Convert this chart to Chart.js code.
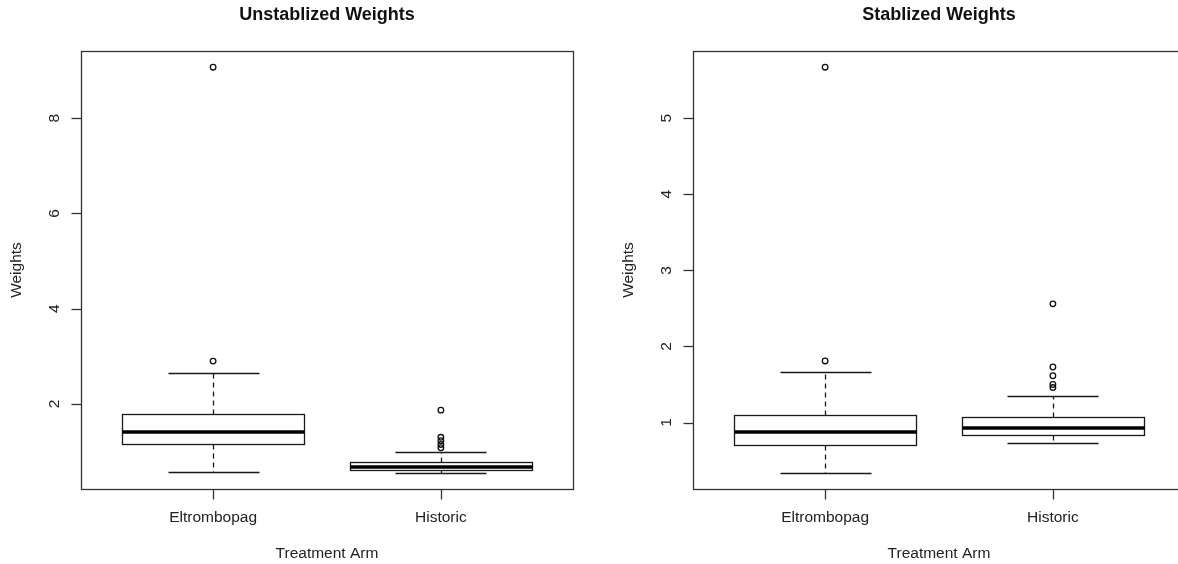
<!DOCTYPE html>
<html>
<head>
<meta charset="utf-8">
<script src="https://cdn.jsdelivr.net/npm/chart.js@4/dist/chart.umd.min.js"></script>
<style>
  html, body { margin: 0; padding: 0; background: #fff; overflow: hidden; }
  #wrap { position: relative; width: 1178px; height: 564px; overflow: hidden; }
  canvas { position: absolute; top: 0; }
  #left { left: 0; }
  #right { left: 589px; }
</style>
</head>
<body>
<div id="wrap">
  <canvas id="left" width="589" height="564"></canvas>
  <canvas id="right" width="612" height="564"></canvas>
</div>
<script>
const categories = ['Eltrombopag', 'Historic'];

// Unstablized weights (box stats)
const unstabLow = [0.57, 0.555];
const unstabQ1 = [1.155, 0.625];
const unstabMedian = [1.42, 0.68];
const unstabQ3 = [1.78, 0.79];
const unstabHigh = [2.66, 1.00];
const unstabOutEltrombopag = [2.90, 9.07];
const unstabOutHistoric = [1.08, 1.15, 1.23, 1.30, 1.87];
const unstabTicks = [2, 4, 6, 8];

// Stablized weights
const stabLow = [0.34, 0.725];
const stabQ1 = [0.71, 0.84];
const stabMedian = [0.87, 0.925];
const stabQ3 = [1.10, 1.07];
const stabHigh = [1.66, 1.35];
const stabOutEltrombopag = [1.81, 5.67];
const stabOutHistoric = [1.46, 1.50, 1.615, 1.73, 2.56];
const stabTicks = [1, 2, 3, 4, 5];

const FONT = '"Liberation Sans", Arial, sans-serif';
const LW = 1.3;

// R-like boxplot: frame, axes, boxes all drawn through the chart scales
const boxPlugin = {
  id: 'rbox',
  beforeDatasetsDraw(chart, args, o) {
    const ctx = chart.ctx;
    const a = chart.chartArea;
    const xs = chart.scales.x, ys = chart.scales.y;
    const px = v => Math.round(v) + 0.5;
    ctx.save();

    // boxes
    for (let i = 0; i < categories.length; i++) {
      const cx = xs.getPixelForValue(i + 1);
      const hw = xs.getPixelForValue(i + 1.4) - cx;
      const yq1 = ys.getPixelForValue(o.q1[i]);
      const yq3 = ys.getPixelForValue(o.q3[i]);
      const ymed = ys.getPixelForValue(o.median[i]);
      const ylo = ys.getPixelForValue(o.low[i]);
      const yhi = ys.getPixelForValue(o.high[i]);
      ctx.strokeStyle = '#1a1a1a';
      ctx.lineWidth = LW;

      // dashed whiskers
      ctx.setLineDash([5, 4]);
      ctx.beginPath();
      ctx.moveTo(px(cx), px(yq3)); ctx.lineTo(px(cx), px(yhi));
      ctx.moveTo(px(cx), px(yq1)); ctx.lineTo(px(cx), px(ylo));
      ctx.stroke();
      ctx.setLineDash([]);

      // caps
      ctx.beginPath();
      ctx.moveTo(px(cx - hw / 2), px(yhi)); ctx.lineTo(px(cx + hw / 2), px(yhi));
      ctx.moveTo(px(cx - hw / 2), px(ylo)); ctx.lineTo(px(cx + hw / 2), px(ylo));
      ctx.stroke();

      // box
      ctx.fillStyle = '#fff';
      ctx.fillRect(px(cx - hw), px(yq3), Math.round(2 * hw), Math.round(yq1 - yq3));
      ctx.strokeRect(px(cx - hw), px(yq3), Math.round(2 * hw), Math.round(yq1 - yq3));

      // median
      ctx.lineWidth = 3.5;
      ctx.strokeStyle = '#000';
      ctx.beginPath();
      ctx.moveTo(px(cx - hw), Math.round(ymed)); ctx.lineTo(px(cx + hw), Math.round(ymed));
      ctx.stroke();
    }

    // frame
    ctx.lineWidth = LW;
    ctx.strokeStyle = '#333';
    ctx.strokeRect(px(a.left), px(a.top), Math.round(a.right - a.left), Math.round(a.bottom - a.top));

    ctx.fillStyle = '#222';
    ctx.font = '15.5px ' + FONT;

    // y ticks + rotated labels
    o.ticks.forEach(v => {
      const y = ys.getPixelForValue(v);
      ctx.beginPath();
      ctx.moveTo(px(a.left) - 10, px(y)); ctx.lineTo(px(a.left), px(y));
      ctx.stroke();
      ctx.save();
      ctx.translate(a.left - 26, y);
      ctx.rotate(-Math.PI / 2);
      ctx.textAlign = 'center';
      ctx.textBaseline = 'middle';
      ctx.fillText(String(v), 0, 0);
      ctx.restore();
    });

    // x ticks + labels
    categories.forEach((c, i) => {
      const x = xs.getPixelForValue(i + 1);
      ctx.beginPath();
      ctx.moveTo(px(x), px(a.bottom)); ctx.lineTo(px(x), px(a.bottom) + 10);
      ctx.stroke();
      ctx.textAlign = 'center';
      ctx.textBaseline = 'middle';
      ctx.fillText(c, x, a.bottom + 29);
    });

    // axis titles
    const midX = (a.left + a.right) / 2;
    ctx.fillText('Treatment Arm', midX, a.bottom + 65);
    ctx.save();
    ctx.translate(a.left - 64, (a.top + a.bottom) / 2);
    ctx.rotate(-Math.PI / 2);
    ctx.fillText('Weights', 0, 0);
    ctx.restore();

    // main title
    ctx.font = 'bold 18px ' + FONT;
    ctx.fillStyle = '#111';
    ctx.fillText(o.title, midX, 15.5);

    ctx.restore();
  }
};

function yRange(lists) {
  const all = [].concat(...lists);
  const lo = Math.min(...all), hi = Math.max(...all);
  const pad = (hi - lo) * 0.04;
  return [lo - pad, hi + pad];
}

function makeChart(id, pad, opts) {
  const [ymin, ymax] = yRange([opts.low, opts.high, opts.outEl, opts.outHist]);
  const pts = (vals, x) => vals.map(v => ({ x: x, y: v }));
  const outlierStyle = {
    showLine: false,
    pointStyle: 'circle',
    pointRadius: 2.8,
    pointBorderWidth: 1.3,
    pointBackgroundColor: 'rgba(0,0,0,0)',
    pointBorderColor: '#111'
  };
  return new Chart(document.getElementById(id), {
    type: 'scatter',
    data: {
      datasets: [
        Object.assign({ label: categories[0], data: pts(opts.outEl, 1) }, outlierStyle),
        Object.assign({ label: categories[1], data: pts(opts.outHist, 2) }, outlierStyle)
      ]
    },
    options: {
      responsive: false,
      animation: false,
      devicePixelRatio: 1,
      layout: { padding: pad },
      plugins: {
        legend: { display: false },
        tooltip: { enabled: false },
        rbox: {
          title: opts.title,
          low: opts.low, q1: opts.q1, median: opts.median, q3: opts.q3, high: opts.high,
          ticks: opts.ticks
        }
      },
      scales: {
        x: { type: 'linear', min: 0.42, max: 2.58, display: false },
        y: { type: 'linear', min: ymin, max: ymax, display: false }
      }
    },
    plugins: [boxPlugin]
  });
}

makeChart('left', { left: 81, top: 51, right: 16, bottom: 75 }, {
  title: 'Unstablized Weights',
  low: unstabLow, q1: unstabQ1, median: unstabMedian, q3: unstabQ3, high: unstabHigh,
  outEl: unstabOutEltrombopag, outHist: unstabOutHistoric, ticks: unstabTicks
});

makeChart('right', { left: 104, top: 51, right: 16, bottom: 75 }, {
  title: 'Stablized Weights',
  low: stabLow, q1: stabQ1, median: stabMedian, q3: stabQ3, high: stabHigh,
  outEl: stabOutEltrombopag, outHist: stabOutHistoric, ticks: stabTicks
});
</script>
</body>
</html>
